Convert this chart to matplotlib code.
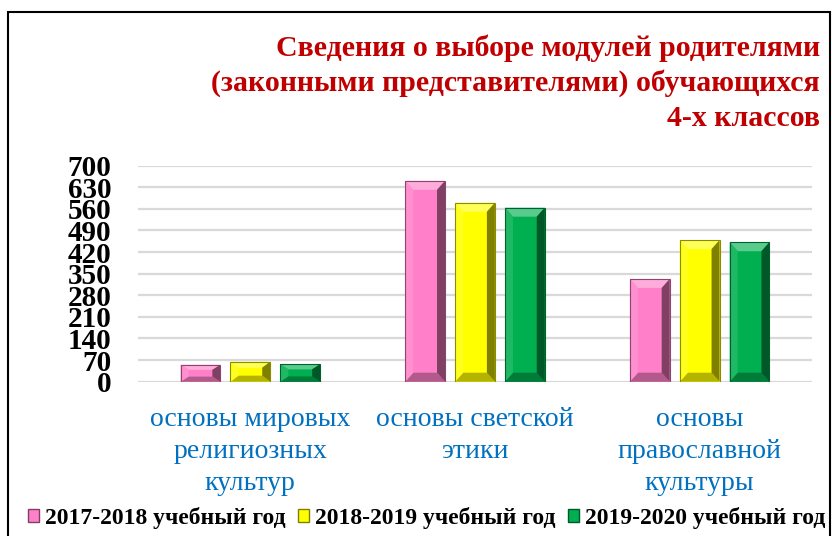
import numpy as np
import matplotlib.pyplot as plt
from matplotlib.patches import Polygon, Patch, Rectangle
from matplotlib.colors import to_rgb

# данные
categories = ["основы мировых\nрелигиозных\nкультур",
              "основы светской\nэтики",
              "основы\nправославной\nкультуры"]
series_names = ["2017-2018 учебный год", "2018-2019 учебный год", "2019-2020 учебный год"]
values_2017 = [55, 651, 333]
values_2018 = [65, 580, 459]
values_2019 = [57, 564, 452]
yticks = list(range(0, 701, 70))

colors = ["#FF80C8", "#FFFF00", "#00B050"]
title = ("Сведения о выборе модулей родителями\n"
         "(законными представителями) обучающихся\n"
         "4-х классов")

serif = ["Liberation Serif", "DejaVu Serif"]
plt.rcParams['font.family'] = serif


def mix(c, other, t):
    c = np.array(to_rgb(c))
    return tuple(c * (1 - t) + np.array(other) * t)


fig = plt.figure(figsize=(8.32, 5.36), dpi=100)
ax = fig.add_axes([138 / 832, 1 - 381.7 / 536, (812 - 138) / 832, 216 / 536])

x = np.arange(len(categories))
step = 0.222
width = 0.177
all_vals = [values_2017, values_2018, values_2019]

ax.set_xlim(-0.5, 2.5)
ax.set_ylim(0, 700)

# пересчёт пикселей в единицы данных для фаски
ax_w = (812 - 138)
ax_h = 216
dx = 8 * 3.0 / ax_w
dy_full = 9 * 700.0 / ax_h

for i, (vals, col) in enumerate(zip(all_vals, colors)):
    bars = ax.bar(x + (i - 1) * step, vals, width=width, color=col, zorder=3)
    for b in bars:
        x0 = b.get_x()
        x1 = x0 + b.get_width()
        h = b.get_height()
        dy = min(dy_full, h * 0.3)
        faces = [
            ([(x0, h), (x1, h), (x1 - dx, h - dy), (x0 + dx, h - dy)], mix(col, (1, 1, 1), 0.35)),
            ([(x0, 0), (x1, 0), (x1 - dx, dy), (x0 + dx, dy)], mix(col, (0, 0, 0), 0.3)),
            ([(x0, 0), (x0, h), (x0 + dx, h - dy), (x0 + dx, dy)], mix(col, (1, 1, 1), 0.12)),
            ([(x1, 0), (x1, h), (x1 - dx, h - dy), (x1 - dx, dy)], mix(col, (0, 0, 0), 0.5)),
        ]
        for pts, fc in faces:
            ax.add_patch(Polygon(pts, closed=True, facecolor=fc, edgecolor='none', zorder=4))
        ax.add_patch(Rectangle((x0, 0), x1 - x0, h, fill=False,
                               edgecolor=mix(col, (0, 0, 0), 0.45), lw=0.8, zorder=5))

ax.set_yticks(yticks)
ax.set_yticklabels([str(v) for v in yticks], fontsize=21, fontweight='bold')
ax.yaxis.grid(True, color="#D9D9D9", lw=1.6, zorder=0)
ax.set_axisbelow(True)
ax.tick_params(axis='y', length=0, pad=19)
ax.set_xticks(x)
ax.set_xticklabels(categories, fontsize=20, color="#0070C0", linespacing=1.38)
ax.tick_params(axis='x', length=0, pad=18)
for s in ax.spines.values():
    s.set_visible(False)

fig.text(820 / 832, 1 - 34 / 536, title, ha='right', va='top', multialignment='right',
         fontsize=21.5, fontweight='bold', color="#C00000", linespacing=1.36)

handles = [Patch(facecolor=c, edgecolor=mix(c, (0, 0, 0), 0.5)) for c in colors]
fig.legend(handles, series_names, loc='center', bbox_to_anchor=(0.513, 1 - 518 / 536),
           ncol=3, frameon=False, prop={'family': serif, 'weight': 'bold', 'size': 17},
           handlelength=0.45, handleheight=0.45, handletextpad=0.25, columnspacing=0.55,
           borderaxespad=0)

# рамка
fig.patches.append(Rectangle((8 / 832, -0.05), (830 - 8) / 832, 1.05 - 12 / 536,
                             transform=fig.transFigure, fill=False, edgecolor='black', lw=1.5))

fig.savefig("out.png", dpi=100)
